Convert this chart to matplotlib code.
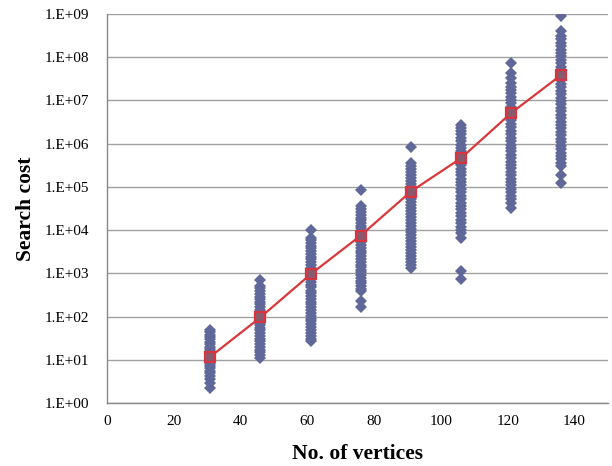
import matplotlib
matplotlib.use("Agg")
from matplotlib import pyplot as plt

# number of vertices for each group of runs
vertices = [31, 46, 61, 76, 91, 106, 121, 136]

# search cost of every run, one list per group
cost_31 = [2.2, 2.9, 3.6, 4.3, 5.0, 5.6, 6.3, 7.1, 8.0, 9.0, 10, 11, 12.5, 14,
           16, 18, 20, 23, 26, 30, 34, 38, 43, 49]
cost_46 = [11, 13, 15, 17, 20, 23, 27, 31, 36, 42, 48, 55, 63, 72, 82, 95, 110,
           125, 145, 165, 190, 220, 250, 290, 330, 390, 450, 520, 700]
cost_61 = [27, 31, 36, 42, 49, 57, 66, 77, 90, 105, 120, 140, 165, 190, 220,
           260, 300, 350, 400, 470, 550, 640, 740, 860, 1000, 1150, 1350, 1550,
           1800, 2100, 2450, 2850, 3300, 3800, 4400, 5100, 5900, 6600, 10000]
cost_76 = [170, 234, 380, 440, 510, 590, 680, 790, 910, 1050, 1200, 1400, 1600,
           1850, 2150, 2500, 2900, 3350, 3900, 4500, 5200, 6000, 7000, 8100,
           9400, 11000, 12500, 14500, 17000, 19500, 22500, 26000, 30000, 36000,
           85000]
cost_91 = [1300, 1550, 1800, 2100, 2500, 2950, 3450, 4050, 4750, 5600, 6600,
           7700, 9000, 10500, 12500, 14500, 17000, 20000, 23500, 27500, 32500,
           38000, 44500, 52000, 61000, 72000, 85000, 100000, 117000, 137000,
           160000, 190000, 220000, 260000, 305000, 360000, 850000]
cost_106 = [720, 1150, 6500, 8500, 10000, 12000, 14500, 17500, 21000, 25000,
            30000, 36000, 43000, 52000, 62000, 75000, 90000, 108000, 130000,
            155000, 185000, 220000, 265000, 320000, 385000, 460000, 550000,
            660000, 790000, 950000, 1140000, 1370000, 1650000, 1980000,
            2350000, 2750000]
cost_121 = [32000, 42000, 52000, 62000, 75000, 90000, 108000, 130000, 155000,
            185000, 225000, 270000, 320000, 385000, 460000, 550000, 660000,
            800000, 950000, 1150000, 1380000, 1650000, 2000000, 2400000,
            2850000, 3450000, 4100000, 4950000, 5900000, 7100000, 8500000,
            10200000, 12300000, 14700000, 17700000, 21000000, 25500000,
            33000000, 42000000, 72000000]
cost_136 = [126000, 190000, 300000, 360000, 430000, 520000, 620000, 750000,
            900000, 1080000, 1300000, 1560000, 1870000, 2250000, 2700000,
            3250000, 3900000, 4700000, 5600000, 6700000, 8100000, 9700000,
            11600000, 14000000, 16800000, 20000000, 24000000, 29000000,
            35000000, 42000000, 50000000, 60000000, 72000000, 87000000,
            105000000, 126000000, 150000000, 180000000, 215000000, 260000000,
            310000000, 400000000, 900000000]

# average search cost per group (red line)
avg_cost = [11.8, 96, 950, 7500, 78000, 460000, 5100000, 39000000]

y_ticks = [1e0, 1e1, 1e2, 1e3, 1e4, 1e5, 1e6, 1e7, 1e8, 1e9]
y_labels = ['1.E+00', '1.E+01', '1.E+02', '1.E+03', '1.E+04', '1.E+05',
            '1.E+06', '1.E+07', '1.E+08', '1.E+09']
x_ticks = [0, 20, 40, 60, 80, 100, 120, 140]

plt.rcParams['font.family'] = ['Liberation Serif', 'DejaVu Serif']

fig = plt.figure(figsize=(6.12, 4.66), dpi=100)
ax = fig.add_axes([0.1744, 0.1352, 0.8191, 0.8348])

groups = [cost_31, cost_46, cost_61, cost_76, cost_91, cost_106, cost_121, cost_136]
for v, costs in zip(vertices, groups):
    ax.plot([v] * len(costs), costs, linestyle='none', marker='D',
            markersize=6.0, color='#5F6899', markeredgewidth=0, zorder=3)

ax.plot(vertices, avg_cost, color='#D9383A', linewidth=1.6, marker='s',
        markersize=6.5, markerfacecolor='#8A5A6C', markeredgecolor='#D9333F',
        markeredgewidth=1.6, zorder=4)

ax.set_yscale('log')
ax.set_ylim(1, 1e9)
ax.set_xlim(0, 150)
ax.set_yticks(y_ticks)
ax.set_yticklabels(y_labels)
ax.minorticks_off()
ax.set_xticks(x_ticks)
ax.tick_params(axis='both', length=0, labelsize=11)
ax.tick_params(axis='y', pad=13)
ax.tick_params(axis='x', pad=9)

ax.yaxis.grid(True, color='#A0A0A0', linewidth=1.0)
ax.set_axisbelow(True)
for side in ['top', 'right']:
    ax.spines[side].set_visible(False)
for side in ['left', 'bottom']:
    ax.spines[side].set_color('#888888')
    ax.spines[side].set_linewidth(1.0)

ax.set_xlabel('No. of vertices', fontsize=15.5, fontweight='bold', labelpad=11)
ax.set_ylabel('Search cost', fontsize=15.5, fontweight='bold', labelpad=6)

fig.savefig('out.png', dpi=100)
